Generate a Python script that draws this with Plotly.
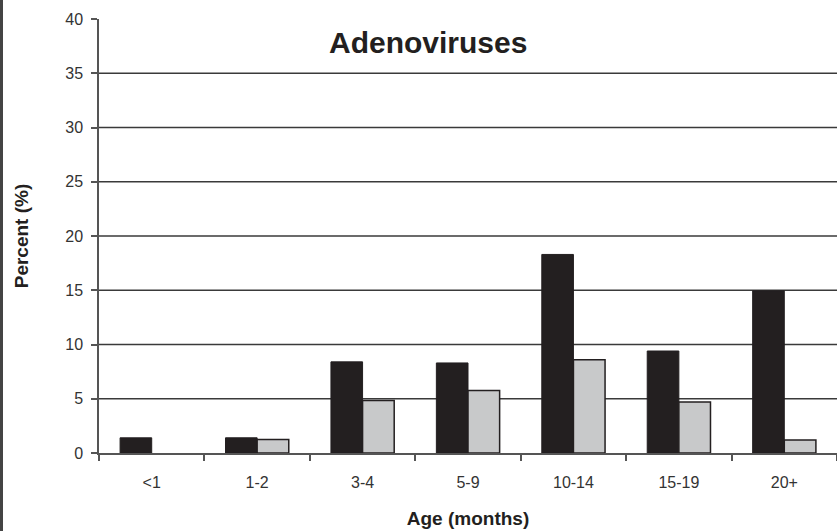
import plotly.graph_objects as go

categories = ["<1", "1-2", "3-4", "5-9", "10-14", "15-19", "20+"]
series_black = [1.4, 1.4, 8.4, 8.3, 18.3, 9.4, 14.95]
series_gray = [0.0, 1.25, 4.85, 5.75, 8.6, 4.7, 1.2]
y_ticks = [0, 5, 10, 15, 20, 25, 30, 35, 40]
grid_levels = [5, 10, 15, 20, 25, 30, 35]

W, H = 837, 531
L, R, T, B = 99, 0, 19, 78
pw = W - L - R
ph = H - T - B

FONT = "Arial, Liberation Sans, sans-serif"

fig = go.Figure()
fig.add_trace(go.Bar(x=categories, y=series_black,
                     marker=dict(color="#231f20", line=dict(color="#231f20", width=1)), showlegend=False))
fig.add_trace(go.Bar(x=categories, y=series_gray,
                     marker=dict(color="#c8c9ca",
                                 line=dict(color="#231f20", width=[0 if v == 0 else 1.5 for v in series_gray])),
                     showlegend=False))

shapes = []
for g in grid_levels:
    shapes.append(dict(type="line", xref="paper", yref="y", x0=0, x1=1, y0=g, y1=g,
                       line=dict(color="#3a3a3a", width=1.5), layer="below"))
# left border of the figure
shapes.append(dict(type="line", xref="paper", yref="paper", x0=(1.5 - L) / pw, x1=(1.5 - L) / pw,
                   y0=-B / ph - 0.05, y1=(H - B) / ph + 0.05, line=dict(color="#444444", width=3)))

fig.update_layout(
    width=W, height=H,
    margin=dict(l=L, r=R, t=T, b=B),
    paper_bgcolor="white", plot_bgcolor="white",
    barmode="group", bargap=0.4, bargroupgap=0,
    shapes=shapes,
    font=dict(family=FONT, color="#333333"),
    annotations=[dict(text="<b>Adenoviruses</b>", xref="paper", yref="paper",
                      x=(428 - L) / pw, y=(H - B - 42) / ph, showarrow=False,
                      font=dict(size=30, color="#231f20", family=FONT), xanchor="center", yanchor="middle")],
)
fig.update_xaxes(
    type="category", tickson="boundaries", ticks="outside", ticklen=6, tickwidth=1.5, tickcolor="#555555",
    showline=True, linecolor="#555555", linewidth=1.5, showgrid=False,
    tickfont=dict(size=16, color="#333333"), ticklabelstandoff=14,
    title=dict(text="<b>Age (months)</b>", font=dict(size=19, color="#231f20"), standoff=22),
)
fig.update_yaxes(
    range=[0, 40], tickvals=y_ticks, ticks="outside", ticklen=6, tickwidth=1.5, tickcolor="#555555",
    showline=True, linecolor="#555555", linewidth=1.5, showgrid=False, zeroline=False,
    tickfont=dict(size=16, color="#333333"), ticklabelstandoff=5,
    title=dict(text="<b>Percent (%)</b>", font=dict(size=19, color="#231f20"), standoff=32),
)

fig.write_html("out.html", config={"displayModeBar": False},
               post_script="document.body.style.margin='0';document.body.style.padding='0';")
